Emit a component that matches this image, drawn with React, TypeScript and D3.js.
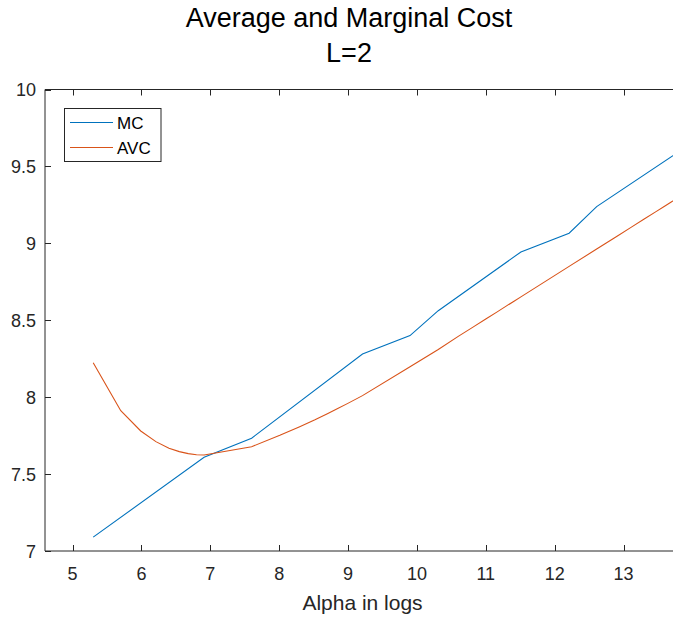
import React, { useEffect, useRef } from 'react'
import * as d3 from 'd3'

// x values are ln(output)
const mcX = [5.30, 6.91, 7.60, 9.21, 9.90, 10.31, 11.51, 12.21, 12.61, 13.82]
const mcY = [7.09, 7.609, 7.733, 8.281, 8.40, 8.562, 8.944, 9.066, 9.239, 9.60]

const avcX = [5.30, 5.70, 5.99, 6.21, 6.40, 6.55, 6.68, 6.80, 6.91, 7.60, 8.01, 8.29, 8.52, 8.70, 8.85, 8.99, 9.10, 9.21,
  9.90, 10.31, 10.60, 10.82, 11.00, 11.16, 11.29, 11.41, 11.51, 12.21, 12.61, 12.90, 13.12, 13.30, 13.46, 13.59, 13.71, 13.82]
const avcY = [8.224, 7.912, 7.78, 7.711, 7.668, 7.646, 7.633, 7.626, 7.624, 7.678, 7.752, 7.806, 7.853, 7.892, 7.926, 7.958, 7.984, 8.01,
  8.198, 8.31, 8.395, 8.457, 8.508, 8.553, 8.59, 8.624, 8.652, 8.85, 8.963, 9.045, 9.107, 9.158, 9.203, 9.24, 9.274, 9.305]

const xTicks = [5, 6, 7, 8, 9, 10, 11, 12, 13]
const yTicks = [7, 7.5, 8, 8.5, 9, 9.5, 10]
const seriesNames = ['MC', 'AVC']
const seriesColors = ['#0072BD', '#D95319']

const FONT = '"Liberation Sans", Arial, Helvetica, sans-serif'
const AXIS = '#262626'

export default function App() {
  const svgRef = useRef<SVGSVGElement>(null)

  useEffect(() => {
    const width = 673
    const height = 618
    const box = { left: 45, right: 680, top: 89.5, bottom: 551 }

    const svg = d3.select(svgRef.current)
    svg.selectAll('*').remove()
    svg.attr('width', width).attr('height', height)

    const x = d3.scaleLinear().domain([4.6, 13.82]).range([box.left, box.right])
    const y = d3.scaleLinear().domain([7, 10]).range([box.bottom, box.top])

    const defs = svg.append('defs')
    defs.append('clipPath').attr('id', 'plotclip')
      .append('rect')
      .attr('x', box.left).attr('y', box.top)
      .attr('width', box.right - box.left).attr('height', box.bottom - box.top)

    const line = d3.line<[number, number]>().x((d) => x(d[0])).y((d) => y(d[1]))
    const series = [
      mcX.map((v, i) => [v, mcY[i]] as [number, number]),
      avcX.map((v, i) => [v, avcY[i]] as [number, number]),
    ]

    const g = svg.append('g').attr('clip-path', 'url(#plotclip)')
    series.forEach((pts, i) => {
      g.append('path')
        .attr('d', line(pts))
        .attr('fill', 'none')
        .attr('stroke', seriesColors[i])
        .attr('stroke-width', 1.1)
    })

    // axes box (left, top, bottom; right side lies outside the picture)
    svg.append('path')
      .attr('d', `M${box.right},${box.top}H${box.left}V${box.bottom}H${box.right}`)
      .attr('fill', 'none')
      .attr('stroke', AXIS)
      .attr('stroke-width', 1)

    xTicks.forEach((t) => {
      const px = Math.round(x(t)) + 0.5
      svg.append('line').attr('x1', px).attr('x2', px).attr('y1', box.bottom).attr('y2', box.bottom - 6)
        .attr('stroke', AXIS).attr('stroke-width', 1)
      svg.append('line').attr('x1', px).attr('x2', px).attr('y1', box.top).attr('y2', box.top + 6)
        .attr('stroke', AXIS).attr('stroke-width', 1)
      svg.append('text')
        .attr('x', x(t)).attr('y', box.bottom + 29)
        .attr('text-anchor', 'middle')
        .attr('font-family', FONT).attr('font-size', 18).attr('fill', AXIS)
        .text(String(t))
    })

    yTicks.forEach((t) => {
      const py = Math.round(y(t)) + 0.5
      svg.append('line').attr('x1', box.left).attr('x2', box.left + 6).attr('y1', py).attr('y2', py)
        .attr('stroke', AXIS).attr('stroke-width', 1)
      svg.append('text')
        .attr('x', box.left - 9).attr('y', y(t) + 6.5)
        .attr('text-anchor', 'end')
        .attr('font-family', FONT).attr('font-size', 18).attr('fill', AXIS)
        .text(String(t))
    })

    svg.append('text')
      .attr('x', (box.left + box.right) / 2).attr('y', 610)
      .attr('text-anchor', 'middle')
      .attr('font-family', FONT).attr('font-size', 21).attr('fill', AXIS)
      .text('Alpha in logs')

    svg.append('text')
      .attr('x', 349).attr('y', 27)
      .attr('text-anchor', 'middle')
      .attr('font-family', FONT).attr('font-size', 27).attr('fill', '#000')
      .text('Average and Marginal Cost')
    svg.append('text')
      .attr('x', 349).attr('y', 62)
      .attr('text-anchor', 'middle')
      .attr('font-family', FONT).attr('font-size', 27).attr('fill', '#000')
      .text('L=2')

    // legend
    const lg = svg.append('g')
    lg.append('rect')
      .attr('x', 64.5).attr('y', 108.5).attr('width', 96.5).attr('height', 53)
      .attr('fill', '#fff').attr('stroke', AXIS).attr('stroke-width', 1)
    seriesNames.forEach((name, i) => {
      const ly = 122.5 + i * 25
      lg.append('line').attr('x1', 70).attr('x2', 113).attr('y1', ly).attr('y2', ly)
        .attr('stroke', seriesColors[i]).attr('stroke-width', 1.1)
      lg.append('text')
        .attr('x', 117).attr('y', ly + 6)
        .attr('font-family', FONT).attr('font-size', 17).attr('fill', '#000')
        .text(name)
    })
  }, [])

  return (
    <svg ref={svgRef} style={{ position: 'absolute', left: 0, top: 0, background: '#fff' }} />
  )
}
